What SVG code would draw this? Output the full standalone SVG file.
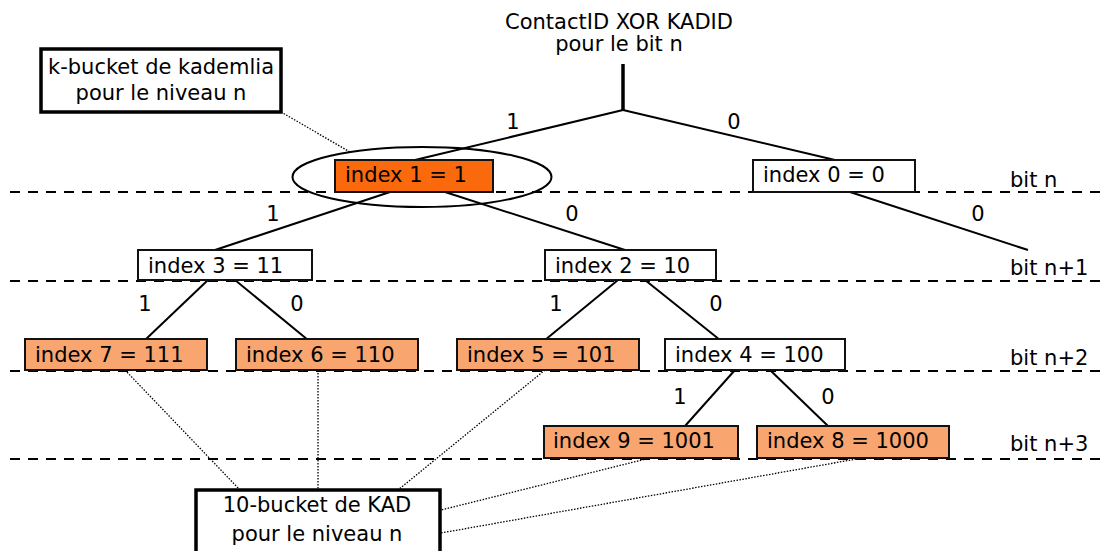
<svg xmlns="http://www.w3.org/2000/svg" width="1100" height="551" viewBox="0 0 1100 551">
<style>
text{font-family:"DejaVu Sans",Verdana,sans-serif;font-size:21px;fill:#000}
.bx{stroke:#111;stroke-width:2}
.w{fill:#fff}
.o1{fill:#fa6a0c}
.o2{fill:#f8a570}
.dash{stroke:#000;stroke-width:2;stroke-dasharray:10 8;fill:none}
.ln{stroke:#000;stroke-width:2;fill:none}
.dot{stroke:#000;stroke-width:1.3;stroke-dasharray:1.5 1.5;fill:none}
.thick{fill:#fff;stroke:#000;stroke-width:3.5}
.lbl{text-anchor:middle}
</style>
<rect width="1100" height="551" fill="#fff"/>
<g id="levels">
<line class="dash" x1="10" y1="192" x2="1100" y2="192"/>
<line class="dash" x1="10" y1="281" x2="1100" y2="281"/>
<line class="dash" x1="10" y1="371" x2="1100" y2="371"/>
<line class="dash" x1="10" y1="459" x2="1100" y2="459"/>
<text x="1010" y="187">bit n</text>
<text x="1010" y="275">bit n+1</text>
<text x="1010" y="365">bit n+2</text>
<text x="1010" y="451">bit n+3</text>
</g>
<g id="connectors">
<line x1="623" y1="64" x2="623" y2="111" stroke="#000" stroke-width="3.5"/>
<line class="ln" x1="623" y1="110" x2="415" y2="160"/>
<line class="ln" x1="623" y1="110" x2="835" y2="160"/>
<line class="ln" x1="390" y1="192" x2="215" y2="250"/>
<line class="ln" x1="445" y1="192" x2="625" y2="250"/>
<line class="ln" x1="850" y1="192" x2="1028" y2="250"/>
<line class="ln" x1="208" y1="280" x2="145" y2="340"/>
<line class="ln" x1="235" y1="280" x2="308" y2="340"/>
<line class="ln" x1="618" y1="280" x2="545" y2="340"/>
<line class="ln" x1="645" y1="280" x2="720" y2="340"/>
<line class="ln" x1="735" y1="370" x2="685" y2="426"/>
<line class="ln" x1="770" y1="370" x2="828" y2="426"/>
<line class="dot" x1="281" y1="112" x2="350" y2="152"/>
<line class="dot" x1="125" y1="370" x2="240" y2="490"/>
<line class="dot" x1="318" y1="370" x2="318" y2="490"/>
<line class="dot" x1="545" y1="370" x2="398" y2="490"/>
<line class="dot" x1="650" y1="458" x2="441" y2="510"/>
<line class="dot" x1="862" y1="458" x2="441" y2="533"/>
<text class="lbl" x="513" y="129">1</text>
<text class="lbl" x="734" y="129">0</text>
<text class="lbl" x="273" y="221">1</text>
<text class="lbl" x="572" y="221">0</text>
<text class="lbl" x="978" y="221">0</text>
<text class="lbl" x="145" y="311">1</text>
<text class="lbl" x="297" y="311">0</text>
<text class="lbl" x="556" y="311">1</text>
<text class="lbl" x="716" y="311">0</text>
<text class="lbl" x="680" y="404">1</text>
<text class="lbl" x="828" y="404">0</text>
</g>
<g id="title">
<text class="lbl" x="619" y="29">ContactID XOR KADID</text>
<text class="lbl" x="619" y="51">pour le bit n</text>
</g>
<g id="kademlia">
<rect class="thick" x="41" y="49" width="240" height="63"/>
<text class="lbl" x="161" y="74">k-bucket de kademlia</text>
<text class="lbl" x="161" y="100">pour le niveau n</text>
</g>
<g id="n1">
<rect class="bx o1" x="335" y="160" width="158" height="32"/>
<text x="345" y="182">index 1 = 1</text>
<ellipse cx="422" cy="177" rx="129.5" ry="30" fill="none" stroke="#000" stroke-width="2"/>
</g>
<g id="n0"><rect class="bx w" x="753" y="160" width="162" height="32"/><text x="763" y="182">index 0 = 0</text></g>
<g id="n3"><rect class="bx w" x="138" y="250" width="174" height="30"/><text x="148" y="273">index 3 = 11</text></g>
<g id="n2"><rect class="bx w" x="545" y="250" width="171" height="30"/><text x="555" y="273">index 2 = 10</text></g>
<g id="n7"><rect class="bx o2" x="25" y="339" width="182" height="31"/><text x="35" y="362">index 7 = 111</text></g>
<g id="n6"><rect class="bx o2" x="236" y="339" width="182" height="31"/><text x="246" y="362">index 6 = 110</text></g>
<g id="n5"><rect class="bx o2" x="457" y="339" width="182" height="31"/><text x="467" y="362">index 5 = 101</text></g>
<g id="n4"><rect class="bx w" x="665" y="339" width="180" height="31"/><text x="675" y="362">index 4 = 100</text></g>
<g id="n9"><rect class="bx o2" x="544" y="426" width="194" height="32"/><text x="553" y="448">index 9 = 1001</text></g>
<g id="n8"><rect class="bx o2" x="757" y="426" width="192" height="32"/><text x="767" y="448">index 8 = 1000</text></g>
<g id="kad">
<rect class="thick" x="196" y="490" width="244" height="70"/>
<text class="lbl" x="317" y="512">10-bucket de KAD</text>
<text class="lbl" x="317" y="541">pour le niveau n</text>
</g>
</svg>
